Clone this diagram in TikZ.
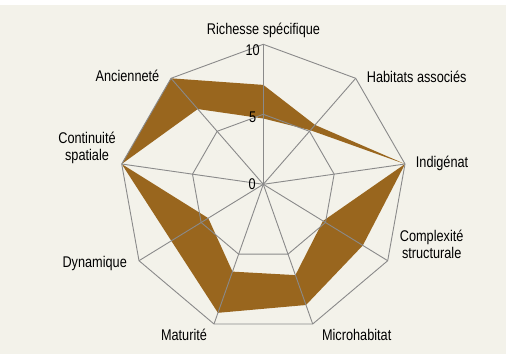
\documentclass[tikz,border=0pt]{standalone}
\usepackage{fontspec}
\setmainfont{Liberation Sans}[FakeStretch=0.82]
\usetikzlibrary{calc}
\definecolor{creme}{RGB}{243,242,234}
\definecolor{ocre}{RGB}{153,102,30}
\definecolor{grille}{RGB}{138,138,138}

\begin{document}
\begin{tikzpicture}[x=1pt,y=-1pt,
	grid/.style={draw=grille, line width=0.9pt, line join=round},
	lab/.style={font=\fontsize{15.5}{16.5}\selectfont, inner sep=0pt, align=center},
	val/.style={font=\fontsize{15.5}{16.5}\selectfont, inner sep=0pt, anchor=base east}]
\useasboundingbox (0,0) rectangle (506,354);
\fill[creme] (0,5) rectangle (506,354);

\coordinate (O) at (263.3,184.3);
\coordinate (a0) at (263.3,44.3);
\coordinate (a1) at (355.7,78.3);
\coordinate (a2) at (405,164);
\coordinate (a3) at (387.7,260.7);
\coordinate (a4) at (312.7,324);
\coordinate (a5) at (214,324);
\coordinate (a6) at (139,260.7);
\coordinate (a7) at (121.7,164);
\coordinate (a8) at (171,78.3);

% bande des valeurs
\fill[ocre, even odd rule]
	($(O)!.71!(a0)$) -- ($(O)!.56!(a1)$) -- (a2) -- ($(O)!.80!(a3)$) -- ($(O)!.864!(a4)$)
	-- ($(O)!.92!(a5)$) -- ($(O)!.74!(a6)$) -- (a7) -- (a8) -- cycle
	($(O)!.47!(a0)$) -- ($(O)!.51!(a1)$) -- (a2) -- ($(O)!.48!(a3)$) -- ($(O)!.65!(a4)$)
	-- ($(O)!.625!(a5)$) -- ($(O)!.443!(a6)$) -- (a7) -- ($(O)!.71!(a8)$) -- cycle;

\draw[grid] (a0) -- (a1) -- (a2) -- (a3) -- (a4) -- (a5) -- (a6) -- (a7) -- (a8) -- cycle;
\draw[grid] ($(O)!.5!(a0)$) -- ($(O)!.5!(a1)$) -- ($(O)!.5!(a2)$) -- ($(O)!.5!(a3)$) -- ($(O)!.5!(a4)$)
	-- ($(O)!.5!(a5)$) -- ($(O)!.5!(a6)$) -- ($(O)!.5!(a7)$) -- ($(O)!.5!(a8)$) -- cycle;
\draw[grid] (O) -- (a0);
\draw[grid] (O) -- (a1);
\draw[grid] (O) -- (a2);
\draw[grid] (O) -- (a3);
\draw[grid] (O) -- (a4);
\draw[grid] (O) -- (a5);
\draw[grid] (O) -- (a6);
\draw[grid] (O) -- (a7);
\draw[grid] (O) -- (a8);

\node[val] (v10) at (260,55) {10};
\node[val] (v5) at (256.5,122) {5};
\node[val] (v0) at (256,189.3) {0};

\node[lab, anchor=base] (richesse) at (263.5,34) {Richesse spécifique};
\node[lab, anchor=base west] (habitats) at (366.7,82) {Habitats associés};
\node[lab, anchor=base west] (indigenat) at (415.7,167.3) {Indigénat};
\node[lab, anchor=base] (complexite) at (431.7,258.3) {Complexité\\structurale};
\node[lab, anchor=base] (microhab) at (356.7,340) {Microhabitat};
\node[lab, anchor=base] (maturite) at (184,340) {Maturité};
\node[lab, anchor=base] (dynamique) at (94.7,267.3) {Dynamique};
\node[lab, anchor=base] (continuite) at (87,160) {Continuité\\spatiale};
\node[lab, anchor=base] (anciennete) at (127.5,81) {Ancienneté};

\end{tikzpicture}
\end{document}
